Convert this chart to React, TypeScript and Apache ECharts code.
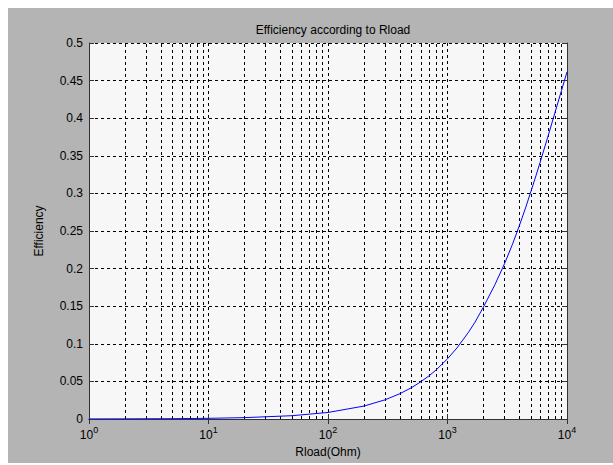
import React, { useEffect, useRef } from "react";
import * as echarts from "echarts";

const rload: number[] = [1, 2, 5, 10, 20, 50, 100, 200, 300, 400, 500, 600, 700, 800, 1000, 1200, 1500, 1700, 2000, 2500, 3000, 3500, 4000, 4500, 5000, 5500, 6000, 7000, 8000, 9000, 10000];
const efficiency: number[] = [0.0001, 0.0002, 0.0004, 0.0009, 0.0018, 0.0044, 0.0087, 0.0172, 0.0255, 0.0337, 0.0417, 0.0497, 0.0574, 0.065, 0.08, 0.0945, 0.1154, 0.1288, 0.149, 0.179, 0.2065, 0.2325, 0.2575, 0.2807, 0.303, 0.3235, 0.343, 0.378, 0.4095, 0.437, 0.4615];
const minorGrid: number[] = [
  2, 3, 4, 5, 6, 7, 8, 9,
  20, 30, 40, 50, 60, 70, 80, 90,
  200, 300, 400, 500, 600, 700, 800, 900,
  2000, 3000, 4000, 5000, 6000, 7000, 8000, 9000,
];
const titleText = "Efficiency according to Rload";
const xName = "Rload(Ohm)";
const yName = "Efficiency";

const FONT = "'Liberation Sans', Arial, sans-serif";
const DASH = [3, 3];

export default function App() {
  const ref = useRef<HTMLDivElement>(null);
  useEffect(() => {
    if (!ref.current) return;
    const chart = echarts.init(ref.current, null, { renderer: "svg" });
    const pairs = rload.map((r, i) => [r, efficiency[i]]);
    const tickStyle = { show: true, inside: true, length: 5, lineStyle: { color: "#333" } };
    chart.setOption({
      animation: false,
      backgroundColor: "#b4b4b4",
      textStyle: { fontFamily: FONT },
      title: {
        text: titleText,
        left: 320,
        top: 11,
        textAlign: "center",
        textStyle: { fontSize: 12, fontWeight: "normal", color: "#000", fontFamily: FONT },
      },
      grid: {
        left: 81,
        right: 46,
        top: 35,
        bottom: 44,
        show: true,
        backgroundColor: "#f7f7f7",
        borderWidth: 0,
        outerBoundsMode: "none",
        containLabel: false,
      },
      xAxis: [
        {
          type: "log",
          logBase: 10,
          min: 1,
          max: 10000,
          position: "bottom",
          name: xName,
          nameLocation: "middle",
          nameGap: 27,
          nameTextStyle: { fontSize: 12, color: "#000", fontFamily: FONT },
          axisLine: { show: true, onZero: false, lineStyle: { color: "#333" } },
          axisTick: tickStyle,
          minorTick: { show: false },
          splitLine: { show: true, lineStyle: { color: "#000", type: DASH, width: 1 } },
          axisLabel: {
            margin: 6,
            color: "#000",
            formatter: (v: number) => `{b|10}{s|${Math.round(Math.log10(v))}}`,
            rich: {
              b: { fontSize: 12, color: "#000", fontFamily: FONT, verticalAlign: "bottom", lineHeight: 16 },
              s: { fontSize: 9, color: "#000", fontFamily: FONT, verticalAlign: "top", lineHeight: 9, padding: [0, 0, 0, 0] },
            },
          },
        },
        {
          type: "log",
          logBase: 10,
          min: 1,
          max: 10000,
          position: "top",
          axisLine: { show: true, lineStyle: { color: "#333" } },
          axisTick: tickStyle,
          axisLabel: { show: false },
          splitLine: { show: false },
        },
      ],
      yAxis: [
        {
          type: "value",
          min: 0,
          max: 0.5,
          interval: 0.05,
          position: "left",
          name: yName,
          nameLocation: "middle",
          nameGap: 44,
          nameRotate: 90,
          nameTextStyle: { fontSize: 12, color: "#000", fontFamily: FONT },
          axisLine: { show: true, lineStyle: { color: "#333" } },
          axisTick: tickStyle,
          splitLine: { show: true, lineStyle: { color: "#000", type: DASH, width: 1 } },
          axisLabel: { margin: 6, fontSize: 12, color: "#000", fontFamily: FONT },
        },
        {
          type: "value",
          min: 0,
          max: 0.5,
          interval: 0.05,
          position: "right",
          axisLine: { show: true, lineStyle: { color: "#333" } },
          axisTick: tickStyle,
          axisLabel: { show: false },
          splitLine: { show: false },
        },
      ],
      series: [
        {
          type: "line",
          xAxisIndex: 0,
          yAxisIndex: 0,
          data: pairs,
          showSymbol: false,
          symbol: "none",
          smooth: false,
          lineStyle: { color: "#0000ff", width: 1 },
          z: 5,
          markLine: {
            silent: true,
            symbol: ["none", "none"],
            label: { show: false },
            lineStyle: { color: "#000", type: DASH, width: 1 },
            emphasis: { disabled: true },
            data: minorGrid.map((v) => ({ xAxis: v })),
            z: 1,
          },
        },
      ],
    });
    return () => chart.dispose();
  }, []);
  return (
    <div
      ref={ref}
      style={{ position: "fixed", left: 8, top: 8, width: 605, height: 455 }}
    />
  );
}
